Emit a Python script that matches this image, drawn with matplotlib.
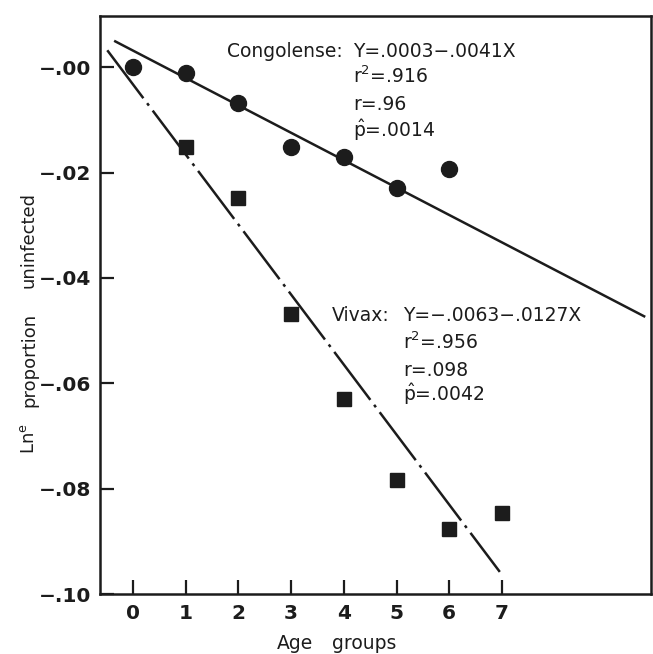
import numpy as np
import matplotlib
matplotlib.use("Agg")
from matplotlib import pyplot as plt

plt.rcParams['font.family'] = ['DejaVu Sans']
plt.rcParams['mathtext.fontset'] = 'dejavusans'

# data
age = [0, 1, 2, 3, 4, 5, 6, 7]
congolense = [0.0, -0.0012, -0.0069, -0.0152, -0.0171, -0.0229, -0.0194]
vivax = [-0.0152, -0.0248, -0.0469, -0.0630, -0.0783, -0.0876, -0.0846]

# fitted lines as drawn (end points)
congo_fit_x = [-0.36, 9.72]
congo_fit_y = [0.0050, -0.0474]
vivax_fit_x = [-0.49, 6.96]
vivax_fit_y = [0.0032, -0.0958]

yticks = [0.0, -0.02, -0.04, -0.06, -0.08, -0.10]
ytick_labels = ['\u2212.00', '\u2212.02', '\u2212.04', '\u2212.06', '\u2212.08', '\u2212.10']

ink = '#1c1c1c'

fig = plt.figure(figsize=(6.53, 6.54), dpi=100)
ax = fig.add_axes([0.153, 0.0917, 0.844, 0.8838])

# fit lines
ax.plot(congo_fit_x, congo_fit_y, color=ink, lw=1.8, solid_capstyle='butt')
ax.plot(vivax_fit_x, vivax_fit_y, color=ink, lw=1.8,
        linestyle=(0, (24, 2.5, 1.2, 2.5)))

# points
ax.plot(age[:7], congolense, 'o', color=ink, ms=11.5, mec=ink)
ax.plot(age[1:], vivax, 's', color=ink, ms=9.5, mec=ink)

ax.set_xlim(-0.63, 9.83)
ax.set_ylim(-0.10, 0.0097)
ax.set_xticks(age)
ax.set_xticklabels([str(a) for a in age], fontsize=14.5, fontweight='bold', color=ink)
ax.set_yticks(yticks)
ax.set_yticklabels(ytick_labels, fontsize=14.5, fontweight='bold', color=ink)
ax.tick_params(direction='in', length=10, width=1.6, color=ink)
ax.tick_params(axis='x', pad=7)
ax.tick_params(axis='y', pad=6)
for s in ax.spines.values():
    s.set_linewidth(1.8)
    s.set_color(ink)

# axis titles, placed word by word like the original
fig.text(0.4525, 0.0168, 'Age', fontsize=13.5, color=ink, ha='center', va='center')
fig.text(0.558, 0.0168, 'groups', fontsize=13.5, color=ink, ha='center', va='center')
fig.text(0.0444, 0.633, 'uninfected', fontsize=13, color=ink, rotation=90,
         ha='center', va='center')
fig.text(0.0444, 0.449, 'proportion', fontsize=13, color=ink, rotation=90,
         ha='center', va='center')
fig.text(0.0444, 0.3295, 'Ln$^{\\mathrm{e}}$', fontsize=13, color=ink, rotation=90,
         ha='center', va='center')

# regression annotations
tkw = dict(fontsize=13.5, color=ink, va='baseline')
ax.text(1.78, 0.0019, 'Congolense:', **tkw)
ax.text(4.17, 0.0019, 'Y=.0003\u2212.0041X', **tkw)
ax.text(4.17, -0.00305, 'r$^{2}$=.916', **tkw)
ax.text(4.17, -0.0082, 'r=.96', **tkw)
ax.text(4.17, -0.0133, '$\\hat{\\mathrm{p}}$=.0014', **tkw)

ax.text(3.78, -0.0482, 'Vivax:', **tkw)
ax.text(5.12, -0.0482, 'Y=\u2212.0063\u2212.0127X', **tkw)
ax.text(5.12, -0.0535, 'r$^{2}$=.956', **tkw)
ax.text(5.12, -0.0587, 'r=.098', **tkw)
ax.text(5.12, -0.0634, '$\\hat{\\mathrm{p}}$=.0042', **tkw)

fig.savefig('out.png', dpi=100)
